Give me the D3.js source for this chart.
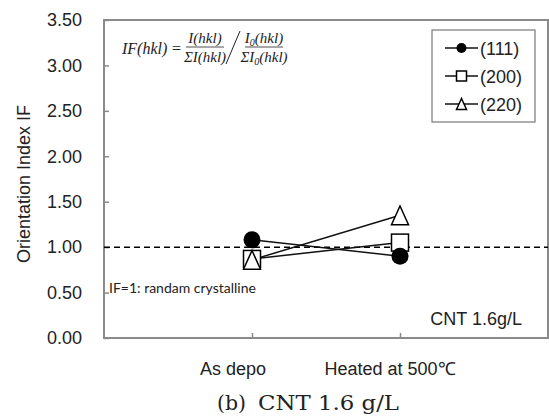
<!DOCTYPE html>
<html>
<head>
<meta charset="utf-8">
<script src="https://cdn.jsdelivr.net/npm/d3@7"></script>
<style>
  body { margin: 0; background: #fff; }
  text { font-family: "Liberation Sans", Arial, sans-serif; fill: #222; }
  .serif { font-family: "Liberation Serif", "Times New Roman", serif; }
  .caption { font-family: "DejaVu Serif", serif; }
</style>
</head>
<body>
<svg id="chart" width="549" height="418"></svg>
<script>
// chart data
var categories = ["As depo", "Heated at 500℃"];
var seriesNames = ["(111)", "(200)", "(220)"];
var seriesShapes = ["circle", "square", "triangle"];
var values111 = [1.08, 0.90];
var values200 = [0.87, 1.05];
var values220 = [0.86, 1.35];
var yTicks = [0, 0.5, 1, 1.5, 2, 2.5, 3, 3.5];
var refLine = 1.0;

var allValues = [values111, values200, values220];

var margin = {left: 104, top: 20, right: 1, bottom: 80};
var width = 549 - margin.left - margin.right;
var height = 338 - margin.top;

var svg = d3.select("#chart");
var g = svg.append("g").attr("transform", "translate(" + margin.left + "," + margin.top + ")");

var x = d3.scalePoint().domain(categories).range([0, width]).padding(1);
var y = d3.scaleLinear().domain([0, 3.5]).range([height, 0]);

// frame
g.append("rect")
  .attr("x", 0).attr("y", 0)
  .attr("width", width).attr("height", height)
  .attr("fill", "none").attr("stroke", "#8a8a8a").attr("stroke-width", 2);

// y axis
var yAxis = g.append("g")
  .call(d3.axisLeft(y).tickValues(yTicks).tickSize(-5).tickPadding(22)
    .tickFormat(function(d) { return d.toFixed(2); }));
yAxis.select(".domain").remove();
yAxis.selectAll(".tick line").attr("stroke", "#8a8a8a").attr("stroke-width", 1.5);
yAxis.selectAll(".tick text").attr("font-size", 18).attr("fill", "#222")
  .style("font-family", "Liberation Sans, Arial, sans-serif");

// x axis
var xAxis = g.append("g").attr("transform", "translate(0," + height + ")")
  .call(d3.axisBottom(x).tickSize(-5).tickFormat(""));
xAxis.select(".domain").remove();
xAxis.selectAll(".tick line").attr("stroke", "#8a8a8a").attr("stroke-width", 1.5);

var labelShift = [-19, -10];
g.selectAll(".xlab").data(categories).enter().append("text")
  .attr("class", "xlab")
  .attr("x", function(d, i) { return x(d) + labelShift[i]; })
  .attr("y", height + 37)
  .attr("text-anchor", "middle")
  .attr("font-size", 18)
  .text(function(d) { return d; });

// y title
svg.append("text")
  .attr("transform", "translate(30,184) rotate(-90)")
  .attr("text-anchor", "middle")
  .attr("font-size", 18)
  .text("Orientation Index IF");

// reference dashed line
g.append("line")
  .attr("x1", 0).attr("x2", width)
  .attr("y1", y(refLine)).attr("y2", y(refLine))
  .attr("stroke", "#000").attr("stroke-width", 1.5)
  .attr("stroke-dasharray", "6,4");

// series lines
var line = d3.line()
  .x(function(d, i) { return x(categories[i]); })
  .y(function(d) { return y(d); });

allValues.forEach(function(vals) {
  g.append("path").datum(vals)
    .attr("d", line)
    .attr("fill", "none").attr("stroke", "#111").attr("stroke-width", 1.5);
});

var drawMarker = function(sel, shape, cx, cy, s) {
  if (shape === "circle") {
    sel.append("circle").attr("cx", cx).attr("cy", cy).attr("r", s / 2)
      .attr("fill", "#000");
  } else if (shape === "square") {
    sel.append("rect").attr("x", cx - s / 2).attr("y", cy - s / 2)
      .attr("width", s).attr("height", s)
      .attr("fill", "#fff").attr("stroke", "#000").attr("stroke-width", 1.5);
  } else {
    var h = s * 1.1;
    sel.append("path")
      .attr("d", "M" + cx + "," + (cy - h / 2) + "L" + (cx + s / 2) + "," + (cy + h / 2) +
        "L" + (cx - s / 2) + "," + (cy + h / 2) + "Z")
      .attr("fill", "#fff").attr("stroke", "#000").attr("stroke-width", 1.5);
  }
};

// markers, drawn so the triangle sits on top of the square
[1, 2, 0].forEach(function(k) {
  allValues[k].forEach(function(v, i) {
    drawMarker(g, seriesShapes[k], x(categories[i]), y(v), 17);
  });
});

// legend
var legend = svg.append("g");
legend.append("rect")
  .attr("x", 432).attr("y", 30).attr("width", 103).attr("height", 92)
  .attr("fill", "#fff").attr("stroke", "#777").attr("stroke-width", 1.2);
seriesNames.forEach(function(name, i) {
  var ly = 48 + i * 28;
  legend.append("line").attr("x1", 445).attr("x2", 478).attr("y1", ly).attr("y2", ly)
    .attr("stroke", "#111").attr("stroke-width", 1.5);
  drawMarker(legend, seriesShapes[i], 461.5, ly, 10);
  legend.append("text").attr("x", 480).attr("y", ly + 6.5)
    .attr("font-size", 18).text(name);
});

// formula
var f = svg.append("g");
f.append("text").attr("class", "serif").attr("x", 122).attr("y", 54)
  .attr("font-size", 16).style("font-style", "italic").text("IF(hkl)");
f.append("text").attr("class", "serif").attr("x", 172).attr("y", 54)
  .attr("font-size", 16).text("=");
var frac = function(cx, num, den) {
  f.append("text").attr("class", "serif").attr("x", cx).attr("y", 43)
    .attr("text-anchor", "middle").attr("font-size", 15).style("font-style", "italic")
    .html(num);
  f.append("line").attr("x1", cx - 19).attr("x2", cx + 19).attr("y1", 47).attr("y2", 47)
    .attr("stroke", "#222").attr("stroke-width", 0.8);
  f.append("text").attr("class", "serif").attr("x", cx).attr("y", 62)
    .attr("text-anchor", "middle").attr("font-size", 15).style("font-style", "italic")
    .html(den);
};
frac(205, "I(hkl)", "ΣI(hkl)");
f.append("line").attr("x1", 226).attr("x2", 240).attr("y1", 64).attr("y2", 31)
  .attr("stroke", "#222").attr("stroke-width", 1);
frac(264, "I<tspan font-size='10' dy='3'>0</tspan><tspan dy='-3'>(hkl)</tspan>",
  "ΣI<tspan font-size='10' dy='3'>0</tspan><tspan dy='-3'>(hkl)</tspan>");

// notes
svg.append("text").attr("x", 109).attr("y", 293)
  .attr("font-size", 14).style("font-family", "Lato, 'Open Sans', sans-serif")
  .text("IF=1: randam crystalline");
svg.append("text").attr("x", 522).attr("y", 325).attr("text-anchor", "end")
  .attr("font-size", 18).text("CNT 1.6g/L");

// caption
svg.append("text").attr("class", "caption").attr("x", 217).attr("y", 410)
  .attr("font-size", 20).attr("textLength", 29).attr("lengthAdjust", "spacingAndGlyphs")
  .text("(b)");
svg.append("text").attr("class", "caption").attr("x", 258).attr("y", 410)
  .attr("font-size", 20).attr("textLength", 141).attr("lengthAdjust", "spacingAndGlyphs")
  .text("CNT 1.6 g/L");
</script>
</body>
</html>
